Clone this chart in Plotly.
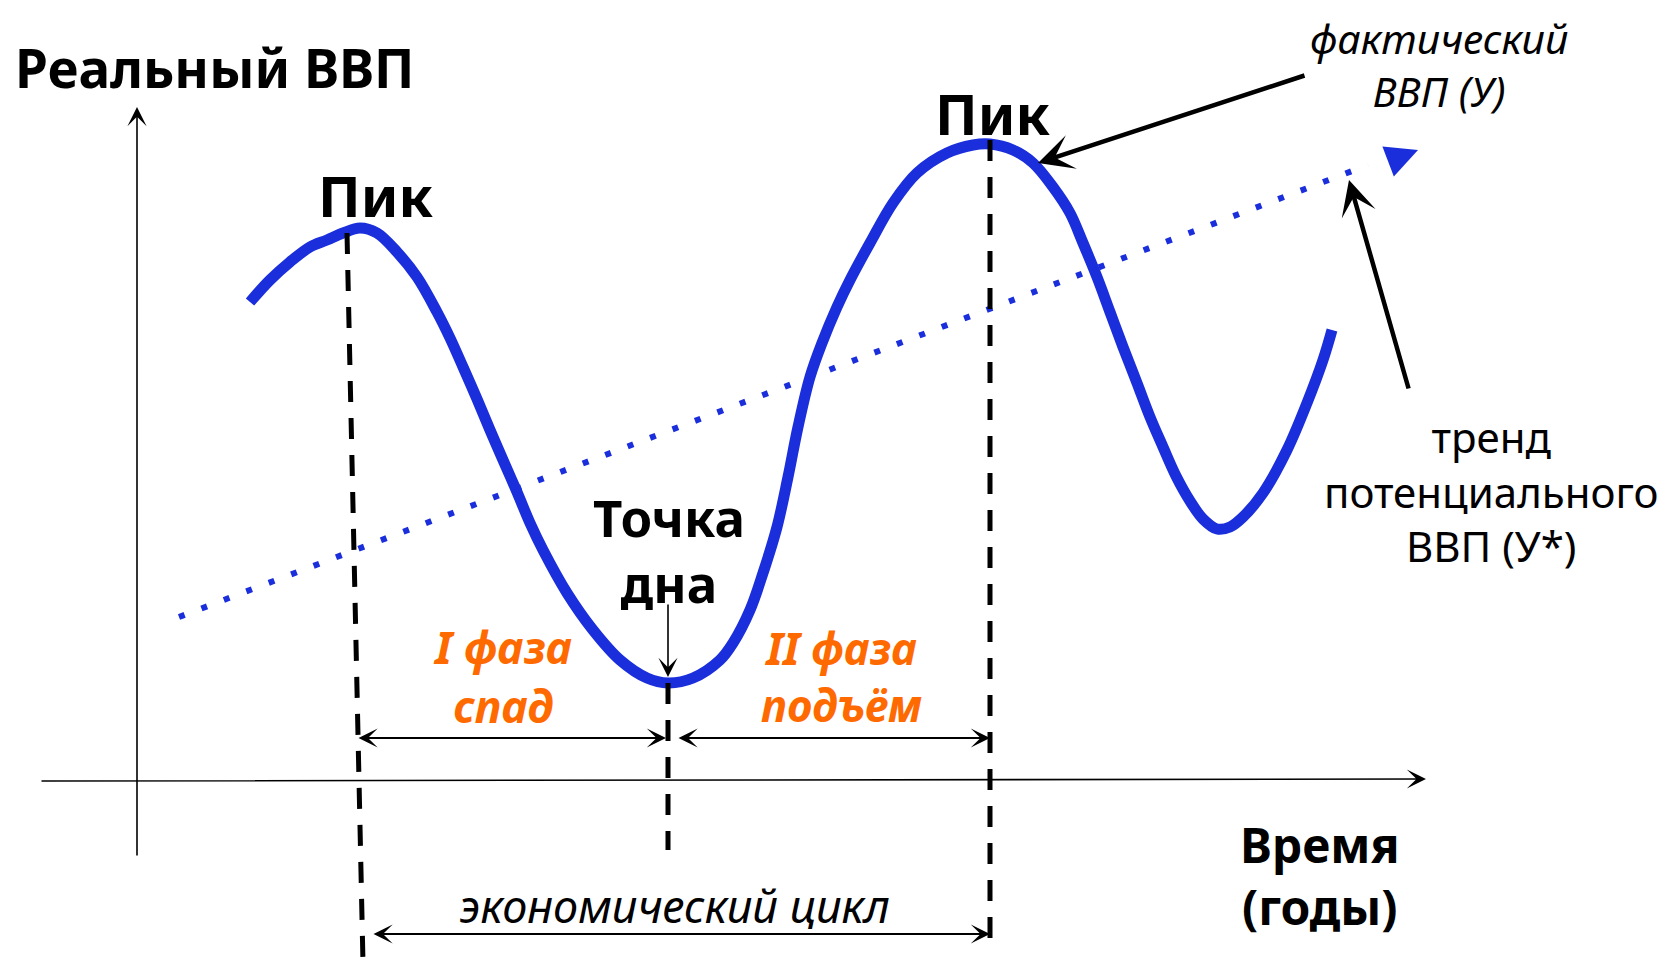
import plotly.graph_objects as go

time = [113, 133, 153, 173, 190, 206, 223, 240, 260, 280,
        300, 313, 326, 340, 353, 366, 380, 393, 406, 430,
        456, 483, 510, 531, 556, 583, 596, 613, 626, 640,
        651, 661, 673, 685, 700, 713, 733, 756, 780, 810,
        836, 853, 876, 896, 916, 933, 946, 960, 973, 986,
        1000, 1013, 1026, 1039, 1053, 1066, 1080, 1093, 1106, 1126,
        1150, 1170, 1186, 1195]
gdp = [478, 500, 518, 533, 540, 547, 552, 547, 528, 503,
       468, 442, 413, 381, 350, 320, 288, 257, 230, 187,
       150, 120, 102, 97, 102, 120, 137, 170, 207, 253,
       303, 353, 403, 437, 473, 500, 537, 577, 607, 627,
       635, 636, 630, 617, 593, 567, 537, 503, 468, 433,
       397, 363, 333, 304, 279, 261, 251, 253, 263, 287,
       330, 377, 420, 450]

# potential GDP trend (Y*)
trend_time = [42, 1231]
trend_gdp = [163, 615]

# peaks and trough of the cycle
peak1_time = [210, 226]
peak1_gdp = [547, -183]
trough_time = [531, 531]
trough_gdp = [97, -70]
peak2_time = [853, 853]
peak2_gdp = [640, -163]

BLUE = "#1A2EDC"
ORANGE = "#FF6A00"
FONT = "Comic Sans MS, Noto Sans, sans-serif"

fig = go.Figure()

# trend of potential GDP (dotted) with its arrow tip
fig.add_trace(go.Scatter(
    x=trend_time, y=trend_gdp, mode="lines",
    line=dict(color=BLUE, width=6, dash="6px,18px"),
    hoverinfo="skip"))
fig.add_trace(go.Scatter(
    x=[1281], y=[630], mode="markers",
    marker=dict(symbol="arrow-right", size=32, color=BLUE, angle=-21),
    hoverinfo="skip"))

# actual GDP
fig.add_trace(go.Scatter(
    x=time, y=gdp, mode="lines",
    line=dict(color=BLUE, width=11, shape="spline", smoothing=1.0),
    hoverinfo="skip"))

# dashed verticals through peaks and trough
for tx, gy in [(peak1_time, peak1_gdp), (trough_time, trough_gdp), (peak2_time, peak2_gdp)]:
    fig.add_trace(go.Scatter(
        x=tx, y=gy, mode="lines",
        line=dict(color="black", width=5, dash="21px,16px"),
        hoverinfo="skip"))


def arrow(x0, y0, x1, y1, width=2, head=3, size=1.5, both=False):
    fig.add_annotation(
        x=x1, y=y1, ax=x0, ay=y0, xref="x", yref="y", axref="x", ayref="y",
        text="", showarrow=True, arrowhead=head, startarrowhead=head,
        arrowsize=size, startarrowsize=size, arrowwidth=width,
        arrowcolor="black", arrowside="end+start" if both else "end",
        standoff=0, startstandoff=0)


# axes
arrow(0, -77, 0, 673, width=1.6, size=2)
arrow(-97, -1, 1289, 1, width=1.6, size=2)

# phase and cycle spans
arrow(220, 42, 529, 42, width=2, size=1.6, both=True)
arrow(540, 42, 853, 42, width=2, size=1.6, both=True)
arrow(235, -154, 853, -154, width=2, size=1.6, both=True)

# pointers
arrow(531, 177, 531, 103, width=1.6, size=2)
arrow(1169, 705, 901, 617, width=4.5, size=1.3)
arrow(1272, 390, 1212, 600, width=4.5, size=1.3)


def label(t, g, text, size, color="black", bold=False, italic=False, anchor="center"):
    fig.add_annotation(
        x=t, y=g, xref="x", yref="y", text=text, showarrow=False,
        xanchor=anchor, yanchor="middle", align="center",
        font=dict(family=FONT, size=size, color=color,
                  weight="bold" if bold else "normal",
                  style="italic" if italic else "normal"))


label(-124, 713, "Реальный ВВП", 53, bold=True, anchor="left")
label(238, 585, "Пик", 56, bold=True)
label(855, 667, "Пик", 56, bold=True)
label(1302, 716, "фактический<br>ВВП (У)", 41, italic=True)
label(1354, 289, "тренд<br>потенциального<br>ВВП (У*)", 42)
label(532, 230, "Точка<br>дна", 51, bold=True)
label(365, 104, "I фаза<br>спад", 45, color=ORANGE, bold=True, italic=True)
label(704, 104, "II фаза<br>подъём", 44, color=ORANGE, bold=True, italic=True)
label(537, -125, "экономический цикл", 45, italic=True)
label(1183, -95, "Время<br>(годы)", 48, bold=True)

# the page adds an 8px body margin, so the figure is 8px smaller and the
# ranges are shifted to keep the axes cross where it is in the picture
fig.update_layout(
    width=1661, height=955,
    margin=dict(l=0, r=0, t=0, b=0),
    plot_bgcolor="white", paper_bgcolor="white",
    showlegend=False,
    xaxis=dict(range=[-129, 1532], visible=False, fixedrange=True),
    yaxis=dict(range=[-183, 772], visible=False, fixedrange=True),
)

fig.write_html("out.html")
